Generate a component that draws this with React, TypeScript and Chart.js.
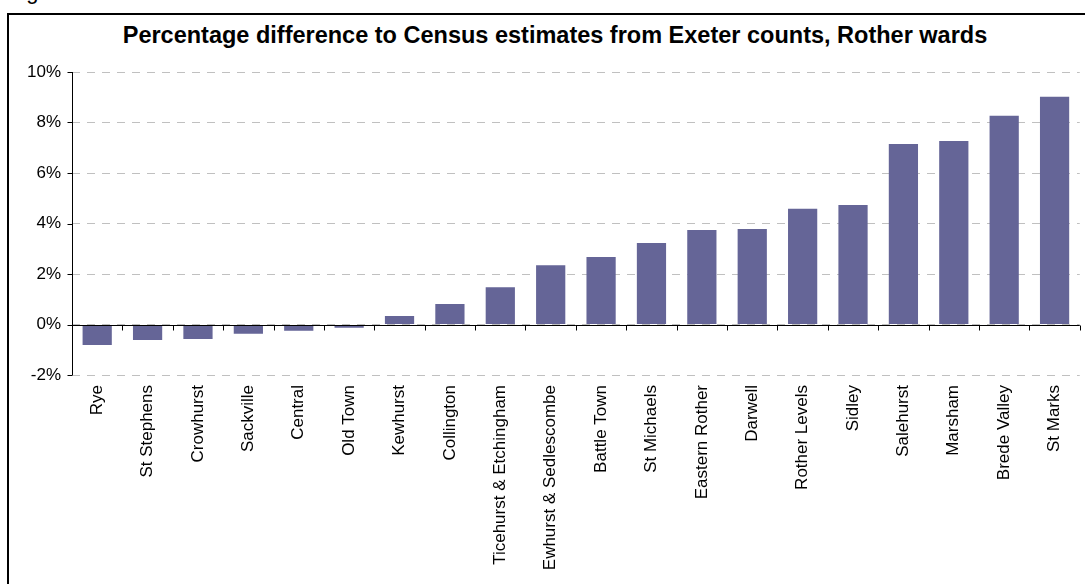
import React, { useEffect, useRef } from "react";
import { Chart, registerables } from "chart.js";

Chart.register(...registerables);

const categories = [
  "Rye",
  "St Stephens",
  "Crowhurst",
  "Sackville",
  "Central",
  "Old Town",
  "Kewhurst",
  "Collington",
  "Ticehurst & Etchingham",
  "Ewhurst & Sedlescombe",
  "Battle Town",
  "St Michaels",
  "Eastern Rother",
  "Darwell",
  "Rother Levels",
  "Sidley",
  "Salehurst",
  "Marsham",
  "Brede Valley",
  "St Marks",
];

const differences = [
  -0.81, -0.61, -0.57, -0.37, -0.25, -0.13, 0.34, 0.81, 1.48, 2.35, 2.67, 3.23,
  3.74, 3.78, 4.58, 4.73, 7.15, 7.27, 8.27, 9.02,
];

const yMin = -2;
const yMax = 10;
const yStep = 2;

const titleText =
  "Percentage difference to Census estimates from Exeter counts, Rother wards";

const FONT = "'Liberation Sans', Arial, Helvetica, sans-serif";

const axisPlugin = {
  id: "axisLines",
  afterDatasetsDraw(chart: any) {
    const { ctx, chartArea, scales } = chart;
    const x = scales.x;
    const y = scales.y;
    ctx.save();
    ctx.strokeStyle = "#000";
    ctx.lineWidth = 1;
    ctx.setLineDash([]);
    const line = (x1: number, y1: number, x2: number, y2: number) => {
      ctx.beginPath();
      ctx.moveTo(x1, y1);
      ctx.lineTo(x2, y2);
      ctx.stroke();
    };
    const ax = Math.round(chartArea.left) + 0.5;
    line(ax, chartArea.top, ax, chartArea.bottom);
    y.ticks.forEach((_t: any, i: number) => {
      const py = Math.round(y.getPixelForTick(i)) + 0.5;
      line(ax - 5, py, ax, py);
    });
    const zy = Math.round(y.getPixelForValue(0)) + 0.5;
    line(chartArea.left, zy, chartArea.right, zy);
    for (let k = 1; k <= categories.length; k++) {
      const px = Math.round(x.getPixelForValue(k - 0.5)) + 0.5;
      line(px, zy, px, zy + 5);
    }
    ctx.restore();
  },
};

export default function App() {
  const canvasRef = useRef<HTMLCanvasElement | null>(null);

  useEffect(() => {
    if (!canvasRef.current) return;
    Chart.defaults.font.family = FONT;
    const chart = new Chart(canvasRef.current, {
      type: "bar",
      data: {
        labels: categories,
        datasets: [
          {
            data: differences,
            backgroundColor: "#656597",
            borderWidth: 0,
            barPercentage: 0.58,
            categoryPercentage: 1.0,
          },
        ],
      },
      options: {
        animation: false,
        responsive: false,
        maintainAspectRatio: false,
        layout: { padding: { left: 0, top: 72, right: 1, bottom: 0 } },
        plugins: {
          legend: { display: false },
          title: { display: false },
          tooltip: { enabled: false },
        },
        scales: {
          x: {
            grid: { display: false, drawTicks: false },
            border: { display: false },
            ticks: {
              color: "#000",
              font: { size: 17, family: FONT },
              maxRotation: 90,
              minRotation: 90,
              padding: 10,
              autoSkip: false,
            },
            afterFit: (scale: any) => {
              scale.height = 209;
            },
          },
          y: {
            min: yMin,
            max: yMax,
            grid: {
              color: "#c0c0c0",
              lineWidth: 1,
              drawTicks: false,
            },
            border: { display: false, dash: [8, 7] },
            ticks: {
              stepSize: yStep,
              color: "#000",
              font: { size: 17, family: FONT },
              padding: 11,
              callback: (v: any) => `${v}%`,
            },
            afterFit: (scale: any) => {
              scale.width = 72;
            },
          },
        },
      },
      plugins: [axisPlugin],
    });
    return () => chart.destroy();
  }, []);

  return (
    <div
      style={{
        position: "fixed",
        left: 0,
        top: 0,
        width: 1085,
        height: 584,
        overflow: "hidden",
        background: "#fff",
      }}
    >
      <div
        style={{
          position: "absolute",
          left: 8,
          top: -19,
          fontFamily: FONT,
          fontSize: 22,
          lineHeight: "22px",
          color: "#000",
          whiteSpace: "nowrap",
        }}
      >
        Figure
      </div>
      <div
        style={{
          position: "absolute",
          left: 7,
          top: 13,
          width: 1200,
          height: 700,
          border: "2px solid #000",
          boxSizing: "border-box",
        }}
      />
      <div
        style={{
          position: "absolute",
          left: 0,
          top: 23.5,
          width: 1110,
          textAlign: "center",
          fontFamily: FONT,
          fontWeight: "bold",
          fontSize: 23.5,
          lineHeight: "23.5px",
          color: "#000",
          whiteSpace: "nowrap",
        }}
      >
        {titleText}
      </div>
      <canvas
        ref={canvasRef}
        width={1085}
        height={584}
        style={{ position: "absolute", left: 0, top: 0, width: 1085, height: 584 }}
      />
    </div>
  );
}
